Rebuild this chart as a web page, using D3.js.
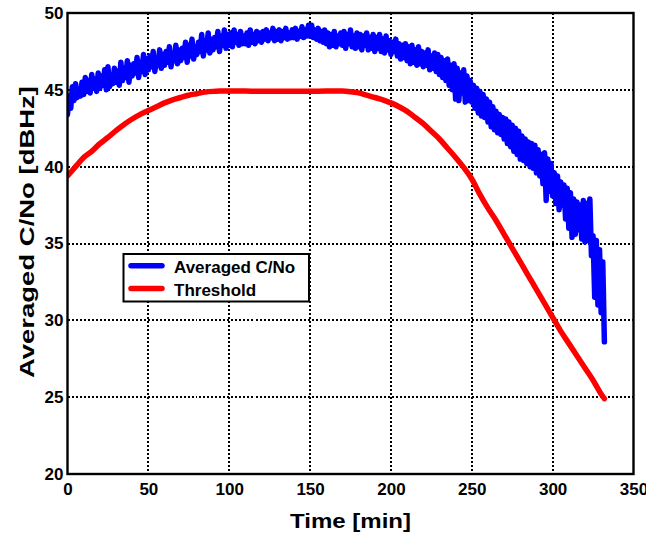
<!DOCTYPE html>
<html>
<head>
<meta charset="utf-8">
<script src="https://cdn.jsdelivr.net/npm/d3@7"></script>
<style>
  html, body { margin: 0; padding: 0; background: #fff; }
  svg { display: block; }
  text { font-family: "Liberation Sans", Arial, sans-serif; font-weight: bold; fill: #000; }
</style>
</head>
<body>
<svg id="chart" width="667" height="536"></svg>
<script>
// ---------------- data ----------------
const xTicks = [0, 50, 100, 150, 200, 250, 300, 350];
const yTicks = [20, 25, 30, 35, 40, 45, 50];

// Threshold curve (time in min, dBHz)
const thresholdTime = [0, 5, 10, 15, 20, 25, 30, 35, 40, 45, 50, 55, 60, 65, 70, 75, 80, 85, 90, 95,
  100, 110, 120, 130, 140, 150, 160, 170, 175, 180, 185, 190, 195, 200, 205, 210, 215, 220, 225, 230,
  235, 240, 245, 250, 255, 260, 265, 270, 275, 280, 285, 290, 295, 300, 305, 310, 315, 320, 325, 330, 332];
const thresholdValue = [39.4, 40.0, 40.6, 41.0, 41.5, 41.9, 42.35, 42.75, 43.1, 43.4, 43.65, 43.9, 44.15, 44.35, 44.5, 44.65, 44.75, 44.85, 44.9, 44.92,
  44.93, 44.92, 44.9, 44.9, 44.9, 44.9, 44.92, 44.92, 44.88, 44.8, 44.65, 44.5, 44.35, 44.15, 43.9, 43.6, 43.2, 42.8, 42.3, 41.8,
  41.2, 40.6, 39.95, 39.2, 38.2, 37.3, 36.5, 35.6, 34.7, 33.8, 32.9, 32.0, 31.1, 30.2, 29.3, 28.5, 27.7, 26.9, 26.1, 25.2, 24.9];

// Averaged C/No, one sample per minute starting at t = 0
const cnoStart = 0;
const cnoStep = 1;
const cnoValues = [
  43.4, 44.6, 43.8, 45.2, 44.3, 45.4, 44.5, 45.0, 44.6, 45.5,
  44.7, 45.8, 44.9, 45.6, 44.8, 46.0, 45.1, 45.7, 44.9, 46.1,
  45.1, 45.9, 45.3, 46.3, 45.0, 46.5, 45.2, 45.8, 45.4, 46.4,
  45.5, 46.2, 45.3, 46.8, 45.6, 46.4, 45.8, 46.9, 45.5, 46.6,
  45.9, 46.7, 46.1, 47.1, 45.8, 46.8, 46.2, 47.3, 46.0, 47.0,
  46.3, 47.2, 46.5, 47.5, 46.2, 47.0, 46.6, 47.6, 46.4, 47.3,
  46.6, 47.5, 46.8, 47.8, 46.5, 47.3, 46.9, 47.9, 46.7, 47.6,
  46.9, 47.7, 47.1, 48.1, 46.8, 47.9, 47.2, 48.3, 47.0, 47.8,
  47.3, 48.1, 47.5, 48.6, 47.2, 48.2, 47.6, 48.7, 47.4, 48.3,
  47.6, 48.4, 47.8, 48.8, 47.5, 48.5, 47.9, 48.9, 47.7, 48.6,
  47.9, 48.7, 47.8, 48.9, 48.1, 48.6, 47.9, 48.8, 48.0, 48.5,
  48.0, 48.7, 47.9, 48.9, 48.1, 48.6, 48.0, 48.8, 48.2, 48.7,
  48.1, 48.8, 48.3, 48.9, 48.2, 48.7, 48.4, 49.0, 48.2, 48.8,
  48.3, 48.9, 48.2, 48.8, 48.4, 49.0, 48.3, 48.7, 48.4, 48.9,
  48.4, 49.0, 48.3, 48.8, 48.5, 49.1, 48.4, 48.9, 48.5, 49.2,
  48.5, 49.2, 48.4, 48.9, 48.3, 49.0, 48.2, 48.8, 48.1, 48.9,
  48.0, 48.7, 47.8, 48.6, 47.9, 48.8, 47.8, 48.5, 48.0, 48.7,
  47.9, 48.8, 47.7, 48.6, 48.0, 48.9, 47.8, 48.5, 47.7, 48.7,
  47.8, 48.6, 47.6, 48.5, 47.9, 48.7, 47.6, 48.4, 47.7, 48.6,
  47.5, 48.4, 47.7, 48.6, 47.5, 48.3, 47.4, 48.5, 47.6, 48.2,
  47.3, 48.1, 47.5, 48.3, 47.2, 48.0, 47.0, 47.9, 47.1, 48.0,
  46.9, 47.8, 46.7, 47.9, 46.8, 47.6, 46.6, 47.8, 46.7, 47.5,
  46.5, 47.4, 46.6, 47.6, 46.3, 47.2, 46.4, 47.4, 46.2, 47.3,
  46.0, 47.1, 45.8, 46.9, 45.6, 47.0, 45.3, 46.6, 45.0, 46.7,
  44.4, 46.4, 44.3, 46.1, 44.8, 46.3, 44.2, 45.9, 44.3, 45.6,
  44.2, 45.3, 43.8, 45.1, 43.5, 44.9, 43.3, 44.7, 43.2, 44.4,
  42.9, 44.2, 42.6, 43.9, 42.4, 43.6, 42.2, 43.4, 42.1, 43.2,
  41.8, 43.1, 41.5, 42.9, 41.3, 42.7, 41.0, 42.5, 40.8, 42.3,
  40.5, 42.0, 40.4, 41.8, 40.2, 41.6, 40.0, 41.5, 39.9, 41.4,
  39.6, 41.1, 39.4, 40.8, 38.9, 40.9, 37.8, 40.5, 38.4, 40.2,
  38.1, 39.6, 37.6, 39.4, 37.2, 39.0, 37.5, 38.8, 36.6, 38.6,
  36.0, 38.3, 35.4, 37.9, 35.6, 37.7, 35.9, 37.5, 35.3, 37.8,
  35.1, 37.6, 35.2, 37.9, 34.2, 35.5, 31.5, 35.2, 31.0, 34.6,
  30.5, 33.8, 28.6
];

const seriesNames = ["Averaged C/No", "Threshold"];
const seriesColors = ["#0000ff", "#ff0000"];
const xLabel = "Time [min]";
const yLabel = "Averaged C/No [dBHz]";

// ---------------- layout ----------------
const svg = d3.select("#chart");
const L = 67.5, R = 633.5, T = 13, B = 474;

const x = d3.scaleLinear().domain([0, 350]).range([L, R]);
const y = d3.scaleLinear().domain([20, 50]).range([B, T]);

svg.append("defs").append("clipPath").attr("id", "plotClip")
  .append("rect").attr("x", L).attr("y", T).attr("width", R - L).attr("height", B - T);

// grid (snapped to whole pixels so the dots stay dark)
const snap = v => Math.round(v);
const grid = svg.append("g").attr("shape-rendering", "crispEdges");
grid.selectAll(".vg").data(xTicks.slice(1, -1)).enter().append("line")
  .attr("x1", d => snap(x(d))).attr("x2", d => snap(x(d))).attr("y1", T).attr("y2", B)
  .attr("stroke", "#000").attr("stroke-width", 2).attr("stroke-dasharray", "2,2");
grid.selectAll(".hg").data(yTicks.slice(1, -1)).enter().append("line")
  .attr("y1", d => snap(y(d))).attr("y2", d => snap(y(d))).attr("x1", L).attr("x2", R)
  .attr("stroke", "#000").attr("stroke-width", 2).attr("stroke-dasharray", "2,2");

// axes (labels only, frame drawn separately)
const xAxis = d3.axisBottom(x).tickValues(xTicks).tickSize(0).tickPadding(9);
const gx = svg.append("g").attr("transform", `translate(0,${B})`).call(xAxis);
gx.select(".domain").remove();
gx.selectAll("text").style("font-size", "17px").style("font-family", "'Liberation Sans', Arial, sans-serif").style("font-weight", "bold").attr("fill", "#000");

const yAxis = d3.axisLeft(y).tickValues(yTicks).tickSize(0).tickPadding(4);
const gy = svg.append("g").attr("transform", `translate(${L},0)`).call(yAxis);
gy.select(".domain").remove();
gy.selectAll("text").style("font-size", "17px").style("font-family", "'Liberation Sans', Arial, sans-serif").style("font-weight", "bold").attr("fill", "#000");

// lines
const plot = svg.append("g").attr("clip-path", "url(#plotClip)");

const cnoData = cnoValues.map((v, i) => [cnoStart + i * cnoStep, v]);
const blueLine = d3.line().x(d => x(d[0])).y(d => y(d[1]));
plot.append("path").datum(cnoData)
  .attr("d", blueLine)
  .attr("fill", "none").attr("stroke", seriesColors[0])
  .attr("stroke-width", 5.5).attr("stroke-linejoin", "round").attr("stroke-linecap", "round");

const thrData = thresholdTime.map((t, i) => [t, thresholdValue[i]]);
const redLine = d3.line().x(d => x(d[0])).y(d => y(d[1])).curve(d3.curveMonotoneX);
plot.append("path").datum(thrData)
  .attr("d", redLine)
  .attr("fill", "none").attr("stroke", seriesColors[1])
  .attr("stroke-width", 5.5).attr("stroke-linejoin", "round").attr("stroke-linecap", "round");

// frame
svg.append("rect").attr("x", L).attr("y", T).attr("width", R - L).attr("height", B - T)
  .attr("fill", "none").attr("stroke", "#000").attr("stroke-width", 2.4);

// legend
const lg = svg.append("g");
lg.append("rect").attr("x", 123.5).attr("y", 254).attr("width", 185.5).attr("height", 47.5)
  .attr("fill", "#fff").attr("stroke", "#000").attr("stroke-width", 2);
seriesNames.forEach((name, i) => {
  const ly = 265.7 + i * 22.8;
  lg.append("line").attr("x1", 131).attr("x2", 162).attr("y1", ly).attr("y2", ly)
    .attr("stroke", seriesColors[i]).attr("stroke-width", 5.5).attr("stroke-linecap", "round");
  lg.append("text").attr("x", 174).attr("y", ly + 7.5).style("font-size", "17px").text(name);
});

// axis titles
svg.append("text").attr("x", (L + R) / 2).attr("y", 528).attr("text-anchor", "middle")
  .style("font-size", "21px").attr("textLength", 121).attr("lengthAdjust", "spacingAndGlyphs").text(xLabel);
svg.append("text").attr("transform", "translate(34,232) rotate(-90)").attr("text-anchor", "middle")
  .style("font-size", "21px").attr("textLength", 292).attr("lengthAdjust", "spacingAndGlyphs").text(yLabel);

// the reference picture is cropped at its right edge
svg.append("rect").attr("x", 646).attr("y", 0).attr("width", 21).attr("height", 536).attr("fill", "#fff");
</script>
</body>
</html>
